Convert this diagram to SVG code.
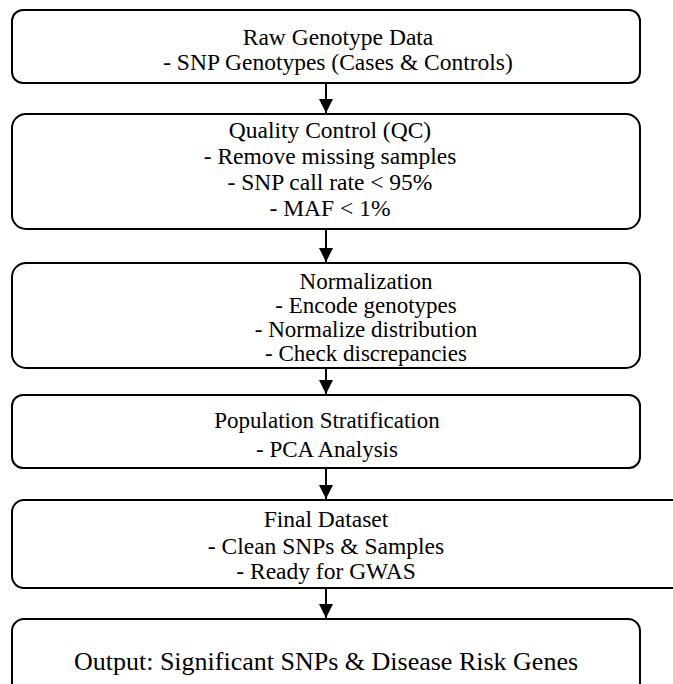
<svg xmlns="http://www.w3.org/2000/svg" width="673" height="684" viewBox="0 0 673 684">
<defs>
<style>
.box{fill:#fff;stroke:#000;stroke-width:2}
.edge{stroke:#000;stroke-width:2;fill:none}
text{fill:#000;text-anchor:middle;font-family:"Liberation Serif","Times New Roman",serif;font-size:23.5px}
.big{font-size:26px}
</style>
<marker id="ah" markerWidth="14" markerHeight="14" refX="14" refY="7" orient="auto" markerUnits="userSpaceOnUse">
<path d="M0,0 L14,7 L0,14 Z" fill="#000"/>
</marker>
</defs>
<rect width="673" height="684" fill="#fff"/>
<g id="connectors">
<line class="edge" x1="326" y1="83" x2="326" y2="113" marker-end="url(#ah)"/>
<line class="edge" x1="326" y1="229" x2="326" y2="262" marker-end="url(#ah)"/>
<line class="edge" x1="326" y1="368" x2="326" y2="394" marker-end="url(#ah)"/>
<line class="edge" x1="326" y1="468" x2="326" y2="499" marker-end="url(#ah)"/>
<line class="edge" x1="326" y1="588" x2="326" y2="618" marker-end="url(#ah)"/>
</g>
<g id="raw">
<rect class="box" x="12" y="10" width="628" height="73" rx="11"/>
<text x="338" y="45">Raw Genotype Data</text>
<text x="338" y="70">- SNP Genotypes (Cases &amp; Controls)</text>
</g>
<g id="qc">
<rect class="box" x="12" y="114" width="628" height="115" rx="14"/>
<text x="330" y="138">Quality Control (QC)</text>
<text x="330" y="164">- Remove missing samples</text>
<text x="330" y="190">- SNP call rate &lt; 95%</text>
<text x="330" y="216">- MAF &lt; 1%</text>
</g>
<g id="norm">
<rect class="box" x="12" y="263" width="628" height="105" rx="14"/>
<text x="366" y="289" style="font-size:23px">Normalization</text>
<text x="366" y="313" style="font-size:23px">- Encode genotypes</text>
<text x="366" y="337" style="font-size:23px">- Normalize distribution</text>
<text x="366" y="361" style="font-size:23px">- Check discrepancies</text>
</g>
<g id="pop">
<rect class="box" x="12" y="395" width="628" height="73" rx="11"/>
<text x="327" y="428" style="font-size:23px">Population Stratification</text>
<text x="327" y="457" style="font-size:23px">- PCA Analysis</text>
</g>
<g id="final">
<rect class="box" x="12" y="500" width="680" height="88" rx="12"/>
<text x="326" y="527">Final Dataset</text>
<text x="326" y="554">- Clean SNPs &amp; Samples</text>
<text x="326" y="579">- Ready for GWAS</text>
</g>
<g id="output">
<rect class="box" x="12" y="619" width="628" height="90" rx="12"/>
<text class="big" x="326" y="670">Output: Significant SNPs &amp; Disease Risk Genes</text>
</g>
</svg>
